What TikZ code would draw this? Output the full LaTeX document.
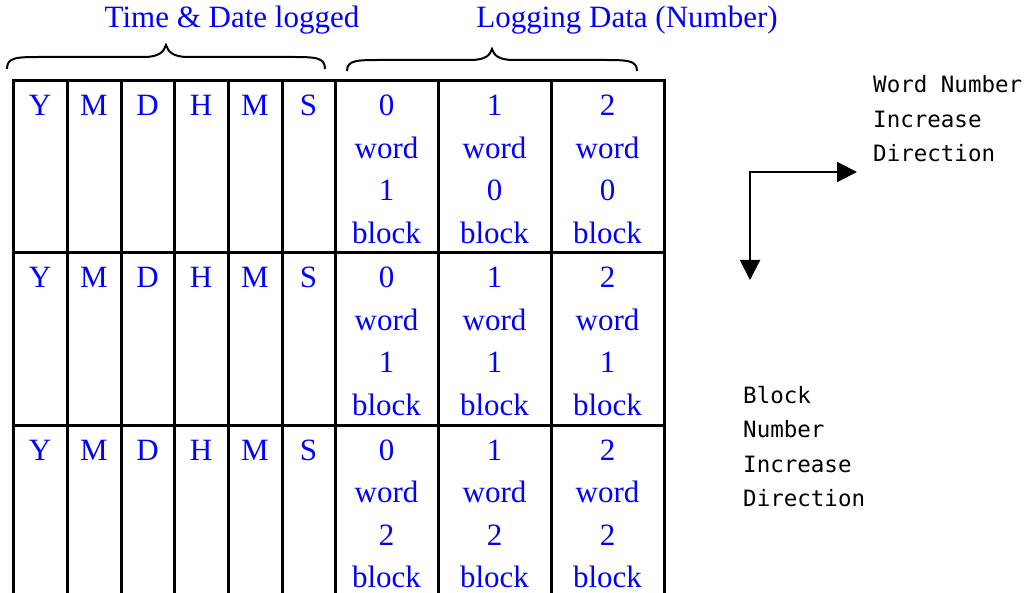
\documentclass[tikz,border=0pt]{standalone}
\usepackage{fontspec}
\setmainfont{Liberation Serif}
\newfontfamily\labelmono{DejaVu Sans Mono}
\usetikzlibrary{arrows.meta}
\definecolor{cellblue}{RGB}{0,0,255}
\begin{document}
\begin{tikzpicture}[x=1pt,y=-1pt,
  grid/.style={line width=3pt, line cap=rect},
  celltext/.style={text=cellblue, font=\fontsize{31}{36}\selectfont, anchor=base, inner sep=0pt},
  bracepath/.style={line width=2pt},
  dirlabel/.style={font=\labelmono\fontsize{22.5}{27}\selectfont, anchor=base west, inner sep=0pt},
  dirarrow/.style={line width=2pt, {Triangle[length=20pt,width=20pt]}-{Triangle[length=20pt,width=20pt]}}]
\useasboundingbox (0,0) rectangle (1025,593);

% group titles
\node[celltext] (timetitle) at (232,28) {Time \& Date logged};
\node[celltext] (datatitle) at (627,28) {Logging Data (Number)};

% curly braces under the titles
\draw[bracepath] (7,69) .. controls (7,57) and (17,57) .. (42,57) -- (144,57)
  .. controls (160,57) and (164,51) .. (166,45)
  .. controls (168,51) and (172,57) .. (188,57) -- (290,57)
  .. controls (315,57) and (325,57) .. (325,69);
\draw[bracepath] (347,71) .. controls (347,60) and (357,60) .. (382,60) -- (470,60)
  .. controls (486,60) and (490,55) .. (492,49)
  .. controls (494,55) and (498,60) .. (514,60) -- (602,60)
  .. controls (627,60) and (637,60) .. (637,71);

% table grid
\foreach \y in {81,253,425}
  \draw[grid] (13,\y) -- (664,\y);
\foreach \x in {13,67,121,174,228,282,335,438,551,664}
  \draw[grid] (\x,81) -- (\x,596);

% time fields in each row
\foreach \r in {0,1,2} {
  \foreach \lbl/\cx [count=\i] in {Y/40,M/94,D/147.5,H/201,M/255,S/308.5}
    \node[celltext] (t-\r-\i) at (\cx,{116+172*\r}) {\lbl};
}

% logging data cells: word number, block number
\foreach \r/\cx/\w/\b [count=\k] in {
    0/386.5/0/1, 0/494.5/1/0, 0/607.5/2/0,
    1/386.5/0/1, 1/494.5/1/1, 1/607.5/2/1,
    2/386.5/0/2, 2/494.5/1/2, 2/607.5/2/2} {
  \node[celltext] (d-\k-a) at (\cx,{116+172*\r}) {\w};
  \node[celltext] (d-\k-b) at (\cx,{158.5+172*\r}) {word};
  \node[celltext] (d-\k-c) at (\cx,{201+172*\r}) {\b};
  \node[celltext] (d-\k-d) at (\cx,{243.5+172*\r}) {block};
}

% direction legend
\node[dirlabel] (w1) at (873,93) {Word Number};
\node[dirlabel] (w2) at (873,127.5) {Increase};
\node[dirlabel] (w3) at (873,162) {Direction};

\node[dirlabel] (b1) at (743,403) {Block};
\node[dirlabel] (b2) at (743,437.5) {Number};
\node[dirlabel] (b3) at (743,472) {Increase};
\node[dirlabel] (b4) at (743,506.5) {Direction};

\coordinate (turn) at (750,172);
\coordinate (wordtip) at (857,172);
\coordinate (blocktip) at (750,280);
\draw[dirarrow] (blocktip) -- (turn) -- (wordtip);
\end{tikzpicture}
\end{document}
